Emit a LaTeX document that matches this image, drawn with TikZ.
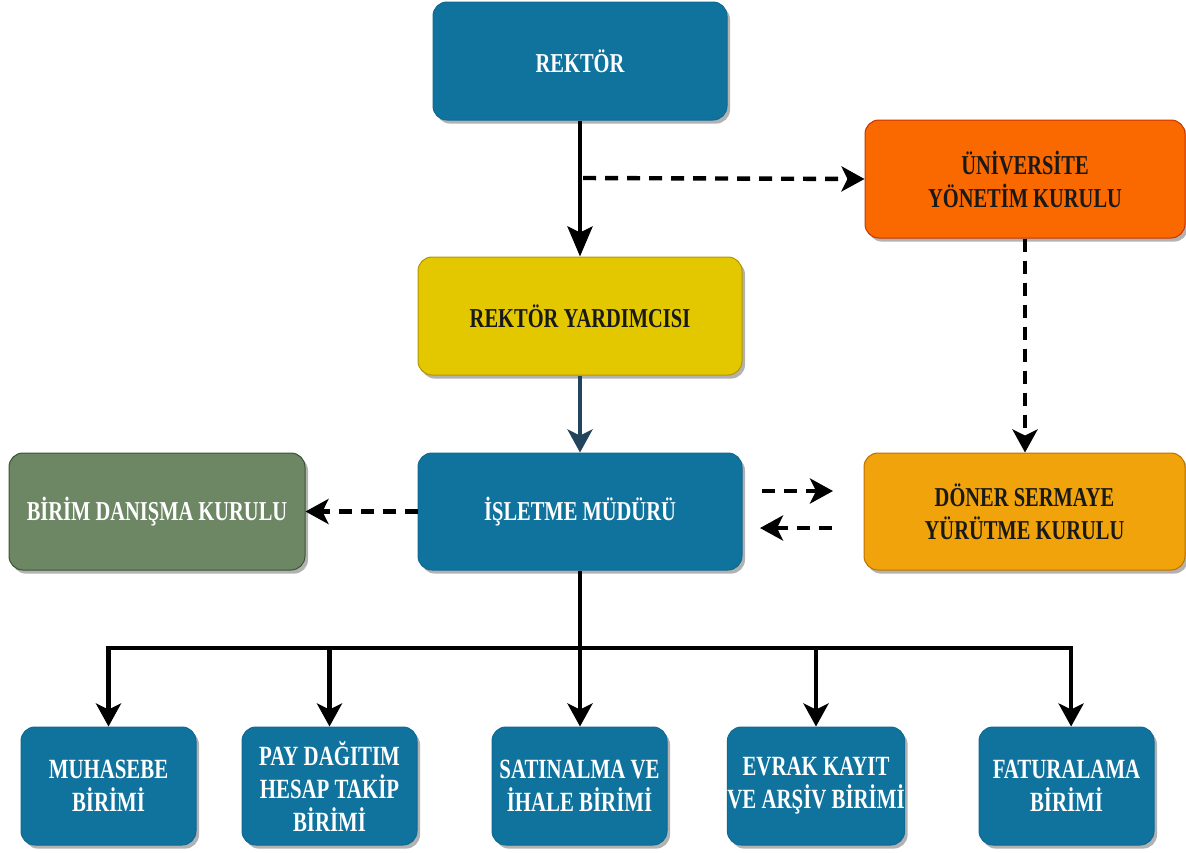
\documentclass[tikz,border=0pt]{standalone}
\usepackage{fontspec}
\setmainfont{Liberation Serif}[FakeStretch=0.75]
\usetikzlibrary{arrows.meta,shadows}
\definecolor{cblue}{HTML}{10739E}
\definecolor{cbluedk}{HTML}{0E6A93}
\definecolor{corange}{HTML}{FA6800}
\definecolor{corangedk}{HTML}{C73500}
\definecolor{cyellow}{HTML}{E3C800}
\definecolor{cyellowdk}{HTML}{B09500}
\definecolor{cgreen}{HTML}{6D8764}
\definecolor{cgreendk}{HTML}{3A5431}
\definecolor{camber}{HTML}{F0A30A}
\definecolor{camberdk}{HTML}{BD7000}
\definecolor{cnavy}{HTML}{23445D}
\begin{document}
\begin{tikzpicture}[x=0.5pt,y=-0.5pt,
  box/.style={rounded corners=7pt, line width=0.5pt, inner sep=0pt, align=center,
    font=\bfseries\fontsize{13.65}{16.5}\selectfont,
    drop shadow={shadow xshift=1.5pt,shadow yshift=-1.8pt,fill=black,opacity=0.3}},
  bluebox/.style={box, fill=cblue, draw=cbluedk, text=white},
  unitbox/.style={bluebox, minimum width=87.5pt, minimum height=59pt,
    font=\bfseries\fontsize{13.9}{16.5}\selectfont},
  conn/.style={line width=2.2pt, black, -{Stealth[length=11.5pt,width=12.5pt,inset=3pt]}},
  dconn/.style={conn, dash pattern=on 6.5pt off 4.5pt},
]
\useasboundingbox (0,0) rectangle (1186,852);

\node[bluebox, minimum width=147pt, minimum height=59pt] (rektor) at (580,61) {REKTÖR};
\node[box, fill=corange, draw=corangedk, text=black!90, minimum width=160pt, minimum height=59pt] (uyk) at (1025,179) {ÜNİVERSİTE\\YÖNETİM KURULU};
\node[box, fill=cyellow, draw=cyellowdk, text=black!90, minimum width=162pt, minimum height=59pt] (ry) at (580,316) {REKTÖR YARDIMCISI};
\node[bluebox, minimum width=162pt, minimum height=58.5pt] (im) at (580,511.5) {İŞLETME MÜDÜRÜ};
\node[box, fill=cgreen, draw=cgreendk, text=white, minimum width=148pt, minimum height=58.5pt] (bdk) at (157,511.5) {BİRİM DANIŞMA KURULU};
\node[box, fill=camber, draw=camberdk, text=black!90, minimum width=160.5pt, minimum height=58.5pt] (dsyk) at (1024.5,511.5) {DÖNER SERMAYE\\YÜRÜTME KURULU};

\node[unitbox] (b1) at (108.5,786) {MUHASEBE\\BİRİMİ};
\node[unitbox] (b2) at (329.5,786) {PAY DAĞITIM\\HESAP TAKİP\\BİRİMİ};
\node[unitbox] (b3) at (579.5,786) {SATINALMA VE\\İHALE BİRİMİ};
\node[unitbox] (b4) at (816,786) {EVRAK KAYIT\\VE ARŞİV BİRİMİ};
\node[unitbox] (b5) at (1066.5,786) {FATURALAMA\\BİRİMİ};

% connectors
\draw[conn, -{Stealth[length=15pt,width=12.5pt,inset=3pt]}] (rektor.south) -- (ry.north);
\coordinate (j) at (583,178);
\draw[dconn] (j) -- (uyk.west);
\draw[dconn] (uyk.south) -- (dsyk.north -| uyk.south);
\draw[conn, cnavy, line width=1.8pt] (ry.south) -- (im.north);
\draw[dconn] (im.west) -- (bdk.east);

\coordinate (a1) at (762,491);
\coordinate (a2) at (833,491);
\coordinate (a3) at (832,528);
\coordinate (a4) at (760,528);
\draw[dconn] (a1) -- (a2);
\draw[dconn] (a3) -- (a4);

\coordinate (hub) at (580,648);
\draw[line width=2.2pt] (im.south) -- (hub);
\draw[conn] (hub) -| (b1.north);
\draw[conn] (hub) -| (b2.north);
\draw[conn] (hub) -- (b3.north -| hub);
\draw[conn] (hub) -| (b4.north);
\draw[conn] (hub) -| ([xshift=2.3pt]b5.north);
\end{tikzpicture}
\end{document}
